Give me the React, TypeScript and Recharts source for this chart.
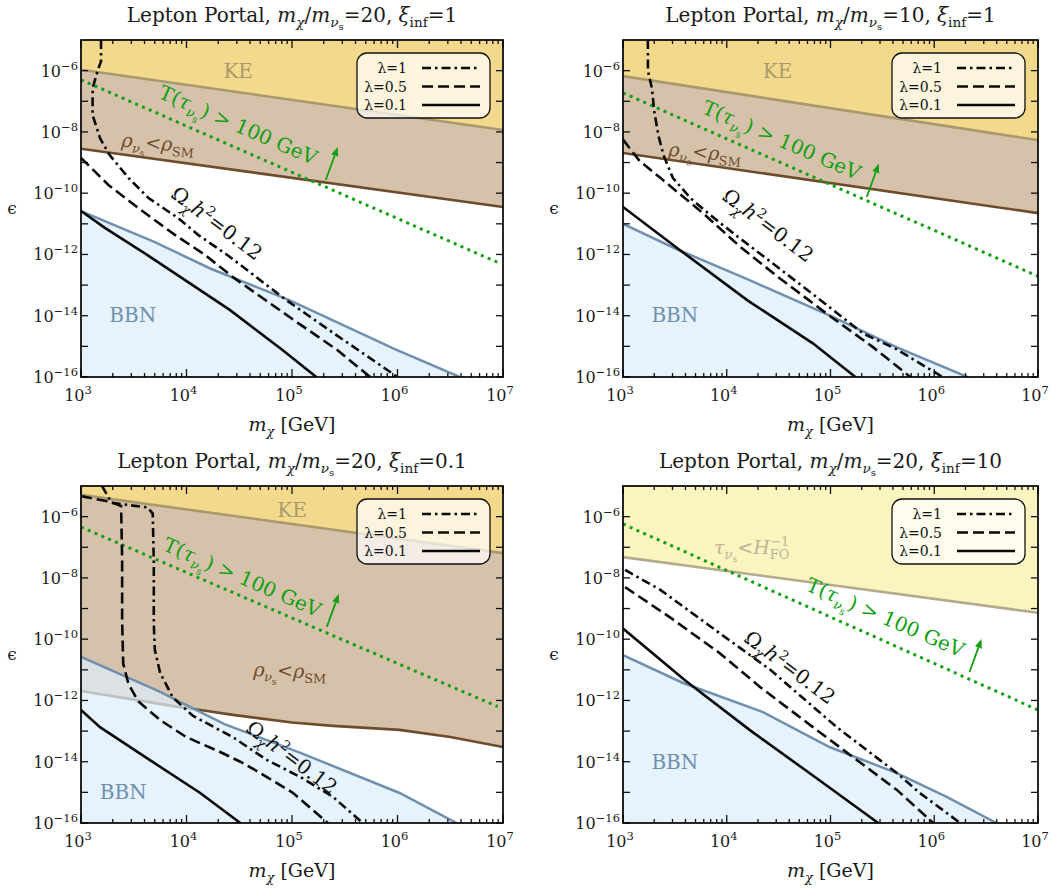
import { Area, ComposedChart, Line, ReferenceDot, XAxis, YAxis } from "recharts";

type Pt = [number, number];
type Seg = [string, string?, number?];

const SERIF = '"DejaVu Serif", "Liberation Serif", serif';

// all values are log10: x = log10(m_chi / GeV), y = log10(epsilon)
const X_DECADES = [3, 4, 5, 6, 7];
const X_SUBS = [2, 3, 4, 5, 6, 7, 8, 9];
const Y_DECADES = [-16, -15, -14, -13, -12, -11, -10, -9, -8, -7, -6];
const Y_LABELED = [-16, -14, -12, -10, -8, -6];
const LAMBDAS = ["λ=1", "λ=0.5", "λ=0.1"];

const X_TICKS = X_DECADES.flatMap((d) =>
  d === 7 ? [d] : [d, ...X_SUBS.map((k) => d + Math.log10(k))]
);

// m_chi/m_nu = 20, xi = 1
const P1_KE: Pt[] = [[3, -5.97], [7, -7.94]];
const P1_RHO: Pt[] = [[3, -8.55], [7, -10.45]];
const P1_T100: Pt[] = [[3, -6.3], [6.95, -12.26]];
const P1_BBN: Pt[] = [[3, -10.59], [3.7, -11.6], [4.22, -12.45], [4.98, -13.5], [5.98, -15.1], [6.59, -16]];
const P1_L1: Pt[] = [[3.19, -5], [3.19, -5.69], [3.16, -5.98], [3.11, -6.57], [3.11, -7.45], [3.18, -8.2], [3.27, -8.75], [3.45, -9.5], [3.64, -10.16], [3.92, -10.81], [4.11, -11.36], [4.4, -12.05], [4.95, -13.5], [5.39, -14.56], [6.0, -16]];
const P1_L05: Pt[] = [[3, -8.85], [3.26, -9.73], [3.54, -10.48], [3.89, -11.36], [4.17, -12.0], [4.44, -12.74], [5.0, -14.1], [5.43, -15.12], [5.74, -16]];
const P1_L01: Pt[] = [[3, -10.58], [3.23, -11.14], [3.63, -12.02], [4.41, -13.81], [4.91, -15.12], [5.23, -16]];

// m_chi/m_nu = 10, xi = 1
const P2_KE: Pt[] = [[3, -6.18], [7, -8.27]];
const P2_RHO: Pt[] = [[3, -8.69], [7, -10.65]];
const P2_T100: Pt[] = [[3, -6.73], [7, -12.71]];
const P2_BBN: Pt[] = [[3, -11.0], [3.52, -11.83], [4.22, -12.84], [4.99, -13.99], [5.64, -15.03], [6.32, -16]];
const P2_L1: Pt[] = [[3.24, -5], [3.24, -6.0], [3.28, -6.6], [3.3, -7.3], [3.34, -8.1], [3.39, -8.75], [3.48, -9.5], [3.65, -10.16], [3.84, -10.71], [4.06, -11.3], [4.35, -12.05], [4.87, -13.4], [5.31, -14.57], [5.64, -15.1], [6.08, -16]];
const P2_L05: Pt[] = [[3.0, -8.25], [3.16, -8.95], [3.36, -9.5], [3.52, -9.95], [3.77, -10.65], [4.13, -11.75], [4.5, -12.75], [4.99, -14.0], [5.4, -15.0], [5.77, -16]];
const P2_L01: Pt[] = [[3, -10.45], [3.55, -11.86], [4.2, -13.5], [4.83, -14.9], [5.24, -16]];

// m_chi/m_nu = 20, xi = 0.1
const P3_KE: Pt[] = [[3, -5.29], [7, -7.19]];
const P3_RHO: Pt[] = [[3, -11.69], [3.92, -12.21], [4.13, -12.31], [4.44, -12.47], [5.0, -12.72], [5.39, -12.83], [6.02, -12.96], [6.5, -13.19], [7, -13.52]];
const P3_T100: Pt[] = [[3, -6.34], [6.95, -12.2]];
const P3_BBN: Pt[] = [[3, -10.58], [3.73, -11.69], [4.36, -12.77], [5.08, -13.71], [6.02, -15.02], [6.56, -16]];
const P3_L1: Pt[] = [[3.2, -5], [3.29, -5.55], [3.63, -5.7], [3.68, -5.9], [3.69, -7.5], [3.69, -9.5], [3.7, -10.35], [3.75, -11.1], [3.87, -11.9], [4.06, -12.5], [4.44, -13.2], [4.76, -13.94], [5.08, -14.5], [5.39, -15.15], [5.67, -16]];
const P3_L05: Pt[] = [[3, -5.33], [3.28, -5.52], [3.38, -5.65], [3.39, -7.4], [3.39, -9.4], [3.4, -10.8], [3.45, -11.46], [3.54, -12.02], [3.75, -12.64], [4.0, -13.2], [4.3, -13.65], [4.51, -14], [4.7, -14.37], [5.01, -15.02], [5.34, -16]];
const P3_L01: Pt[] = [[3, -12.31], [3.18, -12.87], [3.65, -13.94], [4.13, -15.02], [4.51, -16]];

// m_chi/m_nu = 20, xi = 10
const P4_TAU: Pt[] = [[3, -7.32], [7, -9.14]];
const P4_T100: Pt[] = [[3, -6.24], [7, -12.31]];
const P4_BBN: Pt[] = [[3, -10.52], [3.58, -11.43], [4.35, -12.38], [4.99, -13.52], [5.64, -14.37], [6.12, -15.15], [6.6, -16]];
const P4_L1: Pt[] = [[3.02, -7.74], [3.36, -8.39], [3.93, -9.8], [4.42, -11.0], [5.06, -12.87], [5.64, -14.37], [5.86, -15.02], [6.25, -16]];
const P4_L05: Pt[] = [[3.02, -8.3], [3.45, -9.28], [3.93, -10.45], [4.32, -11.56], [4.83, -12.87], [5.64, -14.92], [5.99, -16]];
const P4_L01: Pt[] = [[3, -9.65], [3.6, -11.35], [4.22, -12.96], [4.85, -14.5], [5.46, -16]];

const GOLD = "#f3d98c";
const KE_LINE = "#a89a6c";
const KE_TXT = "#a99a6e";
const TAN = "#d6c2aa";
const BROWN = "#6d4c2c";
const BBN_FILL = "rgb(220,237,251)";
const BBN_LINE = "#6f90ae";
const GREEN = "#12a012";
const PALE = "#fbf4be";
const PALE_LINE = "#b3ab8c";
const PALE_TXT = "#b9b39b";
const INK = "#1a1a1a";

const CURVE_DASH = ["9 4 2.5 4", "11 5", undefined];

const T_SEGS: Seg[] = [["T("], ["τ", "i"], ["ν", "i_"], ["s", "__"], [") > 100 GeV"]];
const OMEGA_SEGS: Seg[] = [["Ω"], ["χ", "i_"], ["h", "i"], ["2", "^"], ["=0.12"]];
const RHO_SEGS: Seg[] = [["ρ", "i"], ["ν", "i_"], ["s", "__"], ["<"], ["ρ", "i"], ["SM", "_"]];
const TAU_SEGS: Seg[] = [["τ", "i"], ["ν", "i_"], ["s", "__"], ["<"], ["H", "i"], ["FO", "_"], ["−1", "^", -19]];

const titleSegs = (ratio: string, xi: string): Seg[] => [
  ["Lepton Portal, "], ["m", "i"], ["χ", "i_"], ["/"], ["m", "i"], ["ν", "i_"], ["s", "__"],
  ["=" + ratio + ", "], ["ξ", "i"], ["inf", "_"], ["=" + xi],
];

interface TextLabel { at: Pt; rot: number; fs: number; color: string; segs: Seg[] }

const PANELS = [
  {
    plot: { l: 81, t: 40, r: 503, b: 377 },
    title: titleSegs("20", "1"),
    upper: { data: P1_KE, fill: GOLD, stroke: KE_LINE },
    rho: P1_RHO, t100: P1_T100, bbn: P1_BBN, curves: [P1_L1, P1_L05, P1_L01],
    arrow: [5.32, -9.57] as Pt,
    labels: [
      { at: [4.49, -6.0], rot: 0, fs: 20, color: KE_TXT, segs: [["KE"]] },
      { at: [3.73, -8.36], rot: 5, fs: 19, color: BROWN, segs: RHO_SEGS },
      { at: [4.49, -7.77], rot: 23.5, fs: 20, color: GREEN, segs: T_SEGS },
      { at: [4.29, -10.97], rot: 37, fs: 20, color: "#111", segs: OMEGA_SEGS },
      { at: [3.49, -13.97], rot: 0, fs: 20, color: BBN_LINE, segs: [["BBN"]] },
    ] as TextLabel[],
  },
  {
    plot: { l: 623, t: 40, r: 1038, b: 377 },
    title: titleSegs("10", "1"),
    upper: { data: P2_KE, fill: GOLD, stroke: KE_LINE },
    rho: P2_RHO, t100: P2_T100, bbn: P2_BBN, curves: [P2_L1, P2_L05, P2_L01],
    arrow: [5.35, -10.12] as Pt,
    labels: [
      { at: [4.49, -6.0], rot: 0, fs: 20, color: KE_TXT, segs: [["KE"]] },
      { at: [3.79, -8.66], rot: 5, fs: 19, color: BROWN, segs: RHO_SEGS },
      { at: [4.53, -8.26], rot: 23.5, fs: 20, color: GREEN, segs: T_SEGS },
      { at: [4.4, -11.04], rot: 37, fs: 20, color: "#111", segs: OMEGA_SEGS },
      { at: [3.5, -13.97], rot: 0, fs: 20, color: BBN_LINE, segs: [["BBN"]] },
    ] as TextLabel[],
  },
  {
    plot: { l: 81, t: 486, r: 503, b: 823 },
    title: titleSegs("20", "0.1"),
    upper: { data: P3_KE, fill: GOLD, stroke: KE_LINE },
    rho: P3_RHO, t100: P3_T100, bbn: P3_BBN, curves: [P3_L1, P3_L05, P3_L01],
    arrow: [5.33, -9.6] as Pt,
    labels: [
      { at: [5.0, -5.78], rot: 0, fs: 20, color: KE_TXT, segs: [["KE"]] },
      { at: [4.98, -11.02], rot: 2, fs: 19, color: BROWN, segs: RHO_SEGS },
      { at: [4.53, -7.97], rot: 23.5, fs: 20, color: GREEN, segs: T_SEGS },
      { at: [5.0, -13.85], rot: 37, fs: 20, color: "#111", segs: OMEGA_SEGS },
      { at: [3.4, -14.99], rot: 0, fs: 20, color: BBN_LINE, segs: [["BBN"]] },
    ] as TextLabel[],
  },
  {
    plot: { l: 623, t: 486, r: 1038, b: 823 },
    title: titleSegs("20", "10"),
    upper: { data: P4_TAU, fill: PALE, stroke: PALE_LINE },
    rho: null as Pt[] | null, t100: P4_T100, bbn: P4_BBN, curves: [P4_L1, P4_L05, P4_L01],
    arrow: [6.34, -11.07] as Pt,
    labels: [
      { at: [4.24, -6.99], rot: 0, fs: 19, color: PALE_TXT, segs: TAU_SEGS },
      { at: [5.53, -9.28], rot: 23.5, fs: 20, color: GREEN, segs: T_SEGS },
      { at: [4.61, -10.91], rot: 37, fs: 20, color: "#111", segs: OMEGA_SEGS },
      { at: [3.5, -14.0], rot: 0, fs: 20, color: BBN_LINE, segs: [["BBN"]] },
    ] as TextLabel[],
  },
];

const toXY = (a: Pt[]) => a.map(([x, y]) => ({ x, y }));

function Rich({ segs, fs }: { segs: Seg[]; fs: number }) {
  let cur = 0;
  return (
    <>
      {segs.map(([t, st = "", dx], k) => {
        const lvl = st.includes("__") ? 2 : st.includes("_") ? 1 : st.includes("^") ? -1 : 0;
        const off = lvl === 2 ? 0.42 * fs : lvl === 1 ? 0.26 * fs : lvl === -1 ? -0.4 * fs : 0;
        const dy = off - cur;
        cur = off;
        const size = lvl === 2 ? 0.5 * fs : lvl === 0 ? fs : 0.68 * fs;
        return (
          <tspan key={k} dx={dx} dy={dy} fontSize={size} fontStyle={st.includes("i") ? "italic" : "normal"}>
            {t}
          </tspan>
        );
      })}
    </>
  );
}

function XTick({ x, y, payload, h }: any) {
  const v = payload.value as number;
  const major = Math.abs(v - Math.round(v)) < 1e-9;
  const len = major ? 8 : 4;
  return (
    <g>
      <line x1={x} x2={x} y1={y} y2={y - len} stroke="#111" strokeWidth={1.3} />
      <line x1={x} x2={x} y1={y - h} y2={y - h + len} stroke="#111" strokeWidth={1.3} />
      {major && (
        <text x={x - 3} y={y + 24} textAnchor="middle" fontFamily={SERIF} fontSize={16} fill={INK}>
          10<tspan dy={-7} fontSize={11.5}>{Math.round(v)}</tspan>
        </text>
      )}
    </g>
  );
}

function YTick({ x, y, payload, w }: any) {
  const v = payload.value as number;
  return (
    <g>
      <line x1={x} x2={x + 7} y1={y} y2={y} stroke="#111" strokeWidth={1.3} />
      <line x1={x + w} x2={x + w - 7} y1={y} y2={y} stroke="#111" strokeWidth={1.3} />
      {Y_LABELED.includes(v) && (
        <text x={x - 3} y={y + 6} textAnchor="end" fontFamily={SERIF} fontSize={16} fill={INK}>
          10<tspan dy={-7} fontSize={11.5}>{"\u2212" + Math.abs(v)}</tspan>
        </text>
      )}
    </g>
  );
}

function ArrowShape({ cx, cy }: any) {
  const dx = 12;
  const dy = -33;
  const L = Math.hypot(dx, dy);
  const ux = dx / L;
  const uy = dy / L;
  const tx = cx + dx;
  const ty = cy + dy;
  const bx = tx - 9 * ux;
  const by = ty - 9 * uy;
  const nx = -uy;
  const ny = ux;
  return (
    <g>
      <line x1={cx} y1={cy} x2={bx} y2={by} stroke={GREEN} strokeWidth={1.8} />
      <polygon
        points={`${tx},${ty} ${bx + 3.6 * nx},${by + 3.6 * ny} ${bx - 3.6 * nx},${by - 3.6 * ny}`}
        fill={GREEN}
      />
    </g>
  );
}

const ML = 80;
const MT = 12;
const MR = 22;
const MB = 40;

function Panel({ cfg }: { cfg: (typeof PANELS)[number] }) {
  const { l, t, r, b } = cfg.plot;
  const w = r - l;
  const h = b - t;
  return (
    <div style={{ position: "absolute", left: l - ML, top: t - MT }}>
      <ComposedChart
        width={w + ML + MR}
        height={h + MT + MB}
        margin={{ left: ML - 1, top: MT, right: MR, bottom: MB - 1 }}
      >
        {cfg.rho && (
          <Area data={toXY(cfg.rho)} dataKey="y" type="linear" baseValue="dataMax" fill={TAN}
            fillOpacity={1} stroke={BROWN} strokeWidth={2.6} dot={false} activeDot={false}
            isAnimationActive={false} />
        )}
        <Area data={toXY(cfg.upper.data)} dataKey="y" type="linear" baseValue="dataMax"
          fill={cfg.upper.fill} fillOpacity={1} stroke={cfg.upper.stroke} strokeWidth={2.6}
          dot={false} activeDot={false} isAnimationActive={false} />
        <Area data={toXY(cfg.bbn)} dataKey="y" type="linear" baseValue="dataMin" fill={BBN_FILL}
          fillOpacity={0.72} stroke={BBN_LINE} strokeWidth={2.5} dot={false} activeDot={false}
          isAnimationActive={false} />
        <Line data={toXY(cfg.t100)} dataKey="y" type="linear" stroke={GREEN} strokeWidth={3}
          strokeDasharray="3 4.4" dot={false} activeDot={false} isAnimationActive={false} />
        {cfg.curves.map((c, i) => (
          <Line key={i} data={toXY(c)} dataKey="y" type="linear" stroke="#0a0a0a"
            strokeWidth={2.6} strokeDasharray={CURVE_DASH[i]} dot={false} activeDot={false}
            isAnimationActive={false} />
        ))}
        {cfg.labels.map((lab, i) => (
          <ReferenceDot key={i} x={lab.at[0]} y={lab.at[1]} r={1} ifOverflow="visible"
            shape={(p: any) => (
              <g transform={`rotate(${lab.rot} ${p.cx} ${p.cy})`}>
                <text x={p.cx} y={p.cy + lab.fs * 0.36} textAnchor="middle" fontFamily={SERIF}
                  fill={lab.color}>
                  <Rich segs={lab.segs} fs={lab.fs} />
                </text>
              </g>
            )}
          />
        ))}
        <ReferenceDot x={cfg.arrow[0]} y={cfg.arrow[1]} r={1} ifOverflow="visible"
          shape={(p: any) => <ArrowShape cx={p.cx} cy={p.cy} />} />
        <XAxis type="number" dataKey="x" domain={[3, 7]} ticks={X_TICKS} interval={0} height={1}
          axisLine={false} tickLine={false} tickSize={0} tickMargin={0} allowDataOverflow
          tick={(p: any) => <XTick {...p} h={h} />} />
        <YAxis type="number" domain={[-16, -5]} ticks={Y_DECADES} interval={0} width={1}
          axisLine={false} tickLine={false} tickSize={0} tickMargin={0} allowDataOverflow
          tick={(p: any) => <YTick {...p} w={w} />} />
      </ComposedChart>
    </div>
  );
}

function Legend({ right, top }: { right: number; top: number }) {
  const x0 = right - 133;
  return (
    <g>
      <rect x={x0} y={top} width={133} height={65} rx={10} fill="#fff" fillOpacity={0.7}
        stroke="#111" strokeWidth={1.3} />
      {LAMBDAS.map((name, i) => {
        const yy = top + 15 + i * 18.5;
        return (
          <g key={name}>
            <text x={x0 + 50} y={yy + 5} textAnchor="end" fontFamily={SERIF} fontSize={14} fill="#111">
              {name}
            </text>
            <line x1={x0 + 65} x2={x0 + 123} y1={yy} y2={yy} stroke="#0a0a0a" strokeWidth={2.6}
              strokeDasharray={CURVE_DASH[i]} />
          </g>
        );
      })}
    </g>
  );
}

export default function App() {
  return (
    <div style={{ position: "absolute", left: 0, top: 0, width: 1062, height: 890, background: "#fff" }}>
      {PANELS.map((cfg, i) => (
        <Panel key={i} cfg={cfg} />
      ))}
      <svg width={1062} height={890} style={{ position: "absolute", left: 0, top: 0, pointerEvents: "none" }}>
        {PANELS.map((cfg, i) => {
          const { l, t, r, b } = cfg.plot;
          const cx = (l + r) / 2;
          return (
            <g key={i}>
              <rect x={l} y={t} width={r - l} height={b - t} fill="none" stroke="#000" strokeWidth={1.7} />
              <text x={cx} y={t - 18} textAnchor="middle" fontFamily={SERIF} fontSize={20} fill={INK}>
                <Rich segs={cfg.title} fs={20} />
              </text>
              <text x={cx} y={b + 54} textAnchor="middle" fontFamily={SERIF} fontSize={19} fill={INK}>
                <Rich segs={[["m", "i"], ["χ", "i_"], [" [GeV]"]]} fs={19} />
              </text>
              <text x={l - 69} y={(t + b) / 2 + 5} textAnchor="middle" fontFamily={SERIF} fontSize={17}
                fill={INK}>
                ϵ
              </text>
              <Legend right={r - 13} top={t + 13} />
            </g>
          );
        })}
      </svg>
    </div>
  );
}
